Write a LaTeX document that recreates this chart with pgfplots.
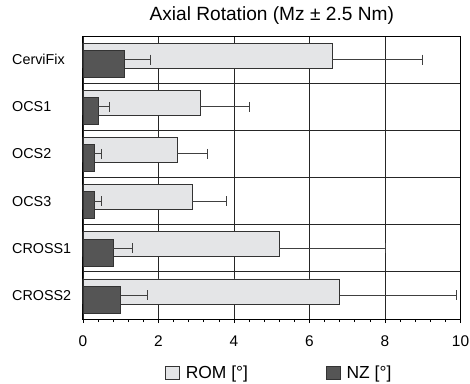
\documentclass[border=0pt]{standalone}
\usepackage{fontspec}
\setmainfont{Liberation Sans}
\usepackage{pgfplots}
\pgfplotsset{compat=1.18}
\definecolor{romfill}{HTML}{E4E5E7}
\definecolor{nzfill}{HTML}{555555}
\definecolor{edge}{HTML}{333333}
\begin{document}
\begin{tikzpicture}
\begin{axis}[
  name=ax,
  scale only axis, width=377.5bp, height=283bp,
  xmin=0, xmax=10, ymin=-0.5, ymax=5.5, y dir=reverse,
  /pgf/number format/assume math mode=true,
  xtick={0,2,...,10}, minor x tick num=4,
  xtick pos=bottom, tick align=outside,
  major tick length=4bp, minor tick length=3bp,
  xtick style={black, line width=0.8bp},
  xmajorgrids, major grid style={black!85, line width=0.8bp},
  ytick={0,...,5}, yticklabels={CerviFix,OCS1,OCS2,OCS3,CROSS1,CROSS2},
  minor ytick={0.5,1.5,2.5,3.5,4.5}, yminorgrids,
  minor grid style={black!85, line width=0.8bp},
  ytick style={draw=none},
  axis line style={black, line width=1bp},
  xticklabel style={font=\fontsize{15.5}{18}\selectfont, yshift=-9bp},
  yticklabel style={font=\fontsize{14.4}{18}\selectfont, anchor=west, xshift=-67bp, inner sep=0pt},
  title={Axial Rotation (Mz ± 2.5 Nm)},
  title style={at={(0.5,1)}, anchor=base, yshift=10bp, inner sep=0pt, font=\fontsize{19.2}{22}\selectfont},
  legend style={draw=none, fill=none, at={(0.52,-0.19)}, anchor=center,
    legend columns=2, font=\fontsize{17.5}{20}\selectfont,
    /tikz/every odd column/.append style={column sep=4bp},
    /tikz/every even column/.append style={column sep=76bp}},
  legend image code/.code={\draw[#1, draw=edge, line width=0.6bp] (0bp,-6.5bp) rectangle (14bp,6.5bp);},
]
\addplot[xbar, bar width=0.53, bar shift=-0.085, fill=romfill, draw=edge, line width=0.8bp,
  error bars/.cd, x dir=plus, x explicit, error mark=|,
  error bar style={line width=1bp, color=black!75},
  error mark options={mark size=5bp, line width=1bp, draw=black!75}]
  coordinates {(6.6,0) +- (2.4,0) (3.1,1) +- (1.3,0) (2.5,2) +- (0.8,0)
               (2.9,3) +- (0.9,0) (5.2,4) +- (2.8,0) (6.8,5) +- (3.1,0)};
\addlegendentry{ROM [°]}
\addplot[xbar, bar width=0.572, bar shift=0.09, fill=nzfill, draw=edge, line width=0.8bp,
  error bars/.cd, x dir=plus, x explicit, error mark=|,
  error bar style={line width=1bp, color=black!75},
  error mark options={mark size=5bp, line width=1bp, draw=black!75}]
  coordinates {(1.1,0) +- (0.7,0) (0.4,1) +- (0.3,0) (0.3,2) +- (0.2,0)
               (0.3,3) +- (0.2,0) (0.8,4) +- (0.5,0) (1.0,5) +- (0.7,0)};
\addlegendentry{NZ [°]}
\end{axis}
\pgfresetboundingbox
\path ([shift={(-83bp,-65bp)}]ax.south west) rectangle ([shift={(9.5bp,36bp)}]ax.north east);
\end{tikzpicture}
\end{document}
